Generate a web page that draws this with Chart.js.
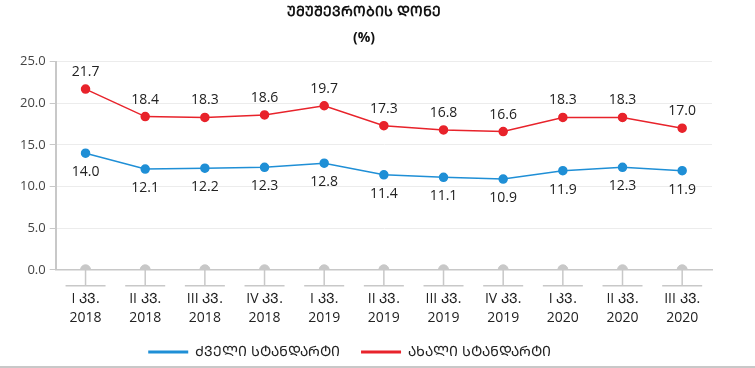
<!DOCTYPE html>
<html><head><meta charset="utf-8">
<script src="https://cdn.jsdelivr.net/npm/chart.js@4/dist/chart.umd.min.js"></script>
<style>
html,body{margin:0;padding:0;background:#fff;overflow:hidden;}
#wrap{width:755px;height:368px;position:relative;overflow:hidden;}
#line{position:absolute;left:0;top:366px;width:755px;height:2px;background:#c8c8c8;}
canvas{position:absolute;left:0;top:0;}
</style></head><body>
<div id="wrap"><canvas id="c" width="755" height="369"></canvas><div id="line"></div></div>
<script>
const categories = [['I ᲙᲕ.','2018'],['II ᲙᲕ.','2018'],['III ᲙᲕ.','2018'],['IV ᲙᲕ.','2018'],['I ᲙᲕ.','2019'],['II ᲙᲕ.','2019'],['III ᲙᲕ.','2019'],['IV ᲙᲕ.','2019'],['I ᲙᲕ.','2020'],['II ᲙᲕ.','2020'],['III ᲙᲕ.','2020']];
const oldStandard = [14.0,12.1,12.2,12.3,12.8,11.4,11.1,10.9,11.9,12.3,11.9];
const newStandard = [21.7,18.4,18.3,18.6,19.7,17.3,16.8,16.6,18.3,18.3,17.0];
const baseline = [0,0,0,0,0,0,0,0,0,0,0];
const titleText = 'ᲣᲛᲣᲨᲔᲕᲠᲝᲑᲘᲡ ᲓᲝᲜᲔ';
const subtitleText = '(%)';
const seriesNames = ['ᲫᲕᲔᲚᲘ ᲡᲢᲐᲜᲓᲐᲠᲢᲘ','ᲐᲮᲐᲚᲘ ᲡᲢᲐᲜᲓᲐᲠᲢᲘ'];

const FONT = '"Open Sans", "DejaVu Sans", sans-serif';
const BLUE = '#1f8fd6', RED = '#e8232b', GRAY = '#c8c8c8';

const labelPlugin = {
  id: 'valueLabels',
  afterDatasetsDraw(chart) {
    const ctx = chart.ctx;
    ctx.save();
    ctx.font = '14px ' + FONT;
    ctx.fillStyle = '#222';
    ctx.textAlign = 'center';
    ctx.textBaseline = 'middle';
    [[0, 19], [1, -17]].forEach(([di, off]) => {
      const meta = chart.getDatasetMeta(di);
      meta.data.forEach((p, i) => {
        ctx.fillText(chart.data.datasets[di].data[i].toFixed(1), p.x, p.y + off);
      });
    });
    ctx.restore();
  }
};
const tickDecor = {
  id: 'tickDecor',
  beforeDatasetsDraw(chart) {
    const ctx = chart.ctx, xs = chart.scales.x, y0 = chart.scales.y.getPixelForValue(0);
    ctx.save();
    ctx.strokeStyle = GRAY; ctx.lineWidth = 1.5;
    for (let i = 0; i < categories.length; i++) {
      const x = xs.getPixelForValue(i);
      ctx.beginPath();
      ctx.moveTo(x, y0); ctx.lineTo(x, y0 + 16);
      ctx.moveTo(x - 20, y0 + 16); ctx.lineTo(x + 20, y0 + 16);
      ctx.stroke();
    }
    ctx.restore();
  }
};

new Chart(document.getElementById('c'), {
  type: 'line',
  data: {
    labels: categories,
    datasets: [
      {label: seriesNames[0] + '     ', data: oldStandard, borderColor: BLUE, backgroundColor: BLUE, pointBackgroundColor: BLUE, pointBorderColor: BLUE, borderWidth: 1.5, pointRadius: 4, pointHoverRadius: 4, tension: 0},
      {label: seriesNames[1] + '        ', data: newStandard, borderColor: RED, backgroundColor: RED, pointBackgroundColor: RED, pointBorderColor: RED, borderWidth: 1.5, pointRadius: 4, pointHoverRadius: 4, tension: 0},
      {label: 'base', data: baseline, showLine: false, pointBackgroundColor: GRAY, pointBorderColor: GRAY, pointRadius: 5, pointHoverRadius: 5}
    ]
  },
  options: {
    responsive: false,
    animation: false,
    layout: {padding: {left: 16, right: 43, top: 2, bottom: 0}},
    plugins: {
      tooltip: {enabled: false},
      title: {display: true, text: titleText, color: '#111', font: {family: FONT, size: 14, weight: 'bold'}, padding: {top: 2, bottom: 5}},
      subtitle: {display: true, text: subtitleText, color: '#111', font: {family: FONT, size: 14, weight: 'bold'}, padding: {top: 4, bottom: 15}},
      legend: {
        position: 'bottom',
        labels: {
          boxWidth: 40, boxHeight: 3, padding: 3,
          color: '#222', font: {family: FONT, size: 14},
          generateLabels(chart) {
            return chart.data.datasets.slice(0, 2).map((d, i) => ({
              text: d.label, fillStyle: d.borderColor, strokeStyle: d.borderColor, lineWidth: 0, datasetIndex: i, hidden: false, fontColor: '#222'
            }));
          }
        }
      }
    },
    scales: {
      x: {
        offset: true,
        grid: {display: false, drawOnChartArea: false},
        border: {display: true, color: GRAY, width: 1.5},
        ticks: {color: '#222', font: {family: FONT, size: 14, lineHeight: 1.4}, padding: 11, maxRotation: 0, autoSkip: false},
        afterFit(scale) { scale.height += 3; }
      },
      y: {
        min: 0, max: 25,
        grid: {color: '#ececec', drawTicks: true, tickLength: 6, tickColor: GRAY},
        border: {display: true, color: GRAY, width: 2},
        ticks: {stepSize: 5, color: '#444', font: {family: FONT, size: 13}, padding: 4, callback: v => v.toFixed(1)}
      }
    }
  },
  plugins: [labelPlugin, tickDecor]
});
</script>
</body></html>
